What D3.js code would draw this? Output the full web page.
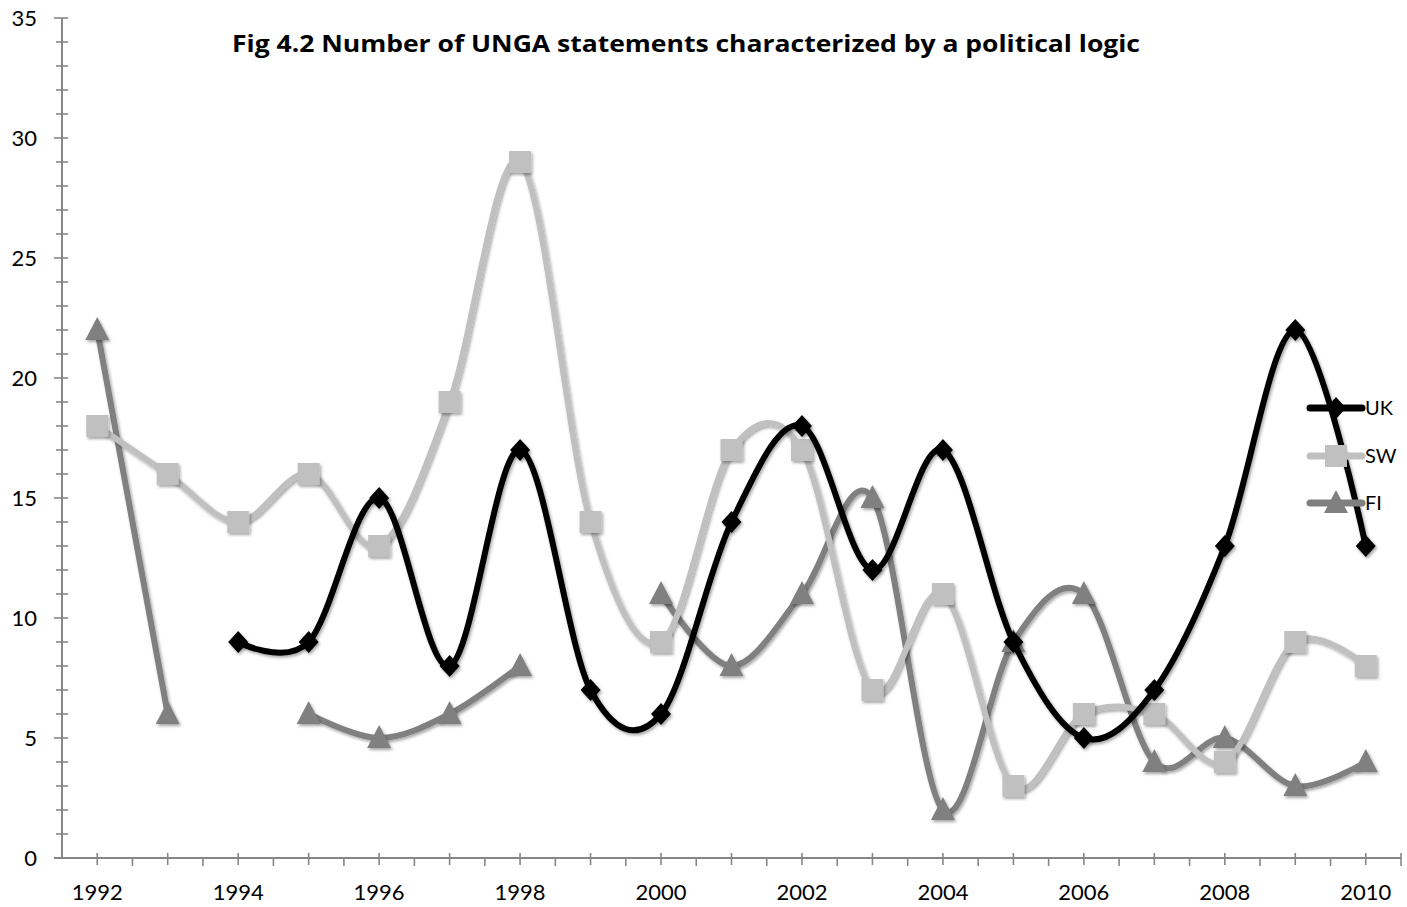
<!DOCTYPE html>
<html><head><meta charset="utf-8">
<script src="https://cdn.jsdelivr.net/npm/d3@7"></script>
<style>body{margin:0;background:#fff}svg{display:block}text{font-family:Lato,"Open Sans",sans-serif}</style>
</head><body><svg id="c" width="1407" height="907"></svg>
<script>
const years = [1992,1993,1994,1995,1996,1997,1998,1999,2000,2001,2002,2003,2004,2005,2006,2007,2008,2009,2010];
const uk = [null,null,9,9,15,8,17,7,6,14,18,12,17,9,5,7,13,22,13];
const sw = [18,16,14,16,13,19,29,14,9,17,17,7,11,3,6,6,4,9,8];
const fi = [22,6,null,6,5,6,8,null,11,8,11,15,2,9,11,4,5,3,4];
const seriesNames = ["UK","SW","FI"];
const yTicks = [0,5,10,15,20,25,30,35];
const xLabels = [1992,1994,1996,1998,2000,2002,2004,2006,2008,2010];
const title = "Fig 4.2 Number of UNGA statements characterized by a political logic";

const svg = d3.select("#c");
const L = 62, R = 1401, T = 18, B = 858;
const x = d3.scaleBand().domain(years).range([L, R]).paddingInner(0).paddingOuter(0);
const cx = d => x(d) + x.bandwidth()/2;
const y = d3.scaleLinear().domain([0,35]).range([B, T]);
const axisCol = "#868686";

const defs = svg.append("defs");
const f = defs.append("filter").attr("id","sh").attr("x","-50%").attr("y","-50%").attr("width","200%").attr("height","200%");
f.append("feDropShadow").attr("dx",1.5).attr("dy",2).attr("stdDeviation",1.8).attr("flood-color","#000").attr("flood-opacity",0.35);

// y axis
const ga = svg.append("g").attr("stroke", axisCol).attr("stroke-width", 2);
ga.append("line").attr("x1",L).attr("x2",L).attr("y1",y(35)).attr("y2",y(0));
d3.range(0,36).forEach(v=>{
  const major = v%5===0;
  ga.append("line").attr("x1", major?L-8:L-6).attr("x2", L+6).attr("y1", y(v)).attr("y2", y(v)).attr("stroke-width",1.6);
});
// x axis
ga.append("line").attr("x1",L-8).attr("x2",R).attr("y1",B).attr("y2",B);
years.forEach(yr=>{
  ga.append("line").attr("x1",cx(yr)).attr("x2",cx(yr)).attr("y1",B-5).attr("y2",B+7).attr("stroke-width",1.6);
});
years.forEach((yr,i)=>{
  if(i>0) ga.append("line").attr("x1",x(yr)).attr("x2",x(yr)).attr("y1",B).attr("y2",B+8).attr("stroke-width",1.6);
});
ga.append("line").attr("x1",R).attr("x2",R).attr("y1",B-5).attr("y2",B+8).attr("stroke-width",1.6);

svg.append("g").selectAll("text").data(yTicks).join("text")
  .attr("x",37).attr("y",d=>y(d)+8).attr("text-anchor","end").attr("font-size",22).attr("fill","#000").text(d=>d);
svg.append("g").selectAll("text").data(xLabels).join("text")
  .attr("x",d=>cx(d)).attr("y",900).attr("text-anchor","middle").attr("font-size",22).attr("fill","#000").text(d=>d);

svg.append("text").attr("x",232).attr("y",52).attr("font-size",24).attr("font-weight","bold")
  .style("font-family","'Open Sans',sans-serif")
  .attr("textLength",908).attr("lengthAdjust","spacingAndGlyphs").text(title);

const cols = {UK:"#000000", SW:"#c0c0c0", FI:"#808080"};
const data = {UK:uk, SW:sw, FI:fi};
const line = d3.line().defined(d=>d.v!==null).x(d=>cx(d.yr)).y(d=>y(d.v)).curve(d3.curveCardinal.tension(0));

function marker(g, name, px, py){
  const c = cols[name];
  if(name==="UK"){
    g.append("path").attr("d",`M${px},${py-11}L${px+10},${py}L${px},${py+11}L${px-10},${py}Z`).attr("fill",c);
  } else if(name==="SW"){
    g.append("rect").attr("x",px-11).attr("y",py-11).attr("width",22).attr("height",22).attr("fill",c);
  } else {
    g.append("path").attr("d",`M${px},${py-13}L${px+12},${py+10}L${px-12},${py+10}Z`).attr("fill",c);
  }
}

["FI","SW","UK"].forEach(name=>{
  const pts = years.map((yr,i)=>({yr, v:data[name][i]}));
  const g = svg.append("g");
  g.append("path").attr("d", line(pts)).attr("fill","none").attr("stroke",cols[name]).attr("stroke-width",6).attr("stroke-linecap","round").attr("filter","url(#sh)");
  const mg = g.append("g").attr("filter","url(#sh)");
  pts.filter(d=>d.v!==null).forEach(d=>marker(mg, name, cx(d.yr), y(d.v)));
});

// legend
const legY = {UK:408, SW:456, FI:503};
seriesNames.forEach(name=>{
  const g = svg.append("g");
  g.append("line").attr("x1",1310).attr("x2",1362).attr("y1",legY[name]).attr("y2",legY[name]).attr("stroke",cols[name]).attr("stroke-width",7).attr("stroke-linecap","round");
  marker(g, name, 1336, legY[name]);
  g.append("text").attr("x",1365).attr("y",legY[name]+7).attr("font-size",20).text(name);
});
</script></body></html>
